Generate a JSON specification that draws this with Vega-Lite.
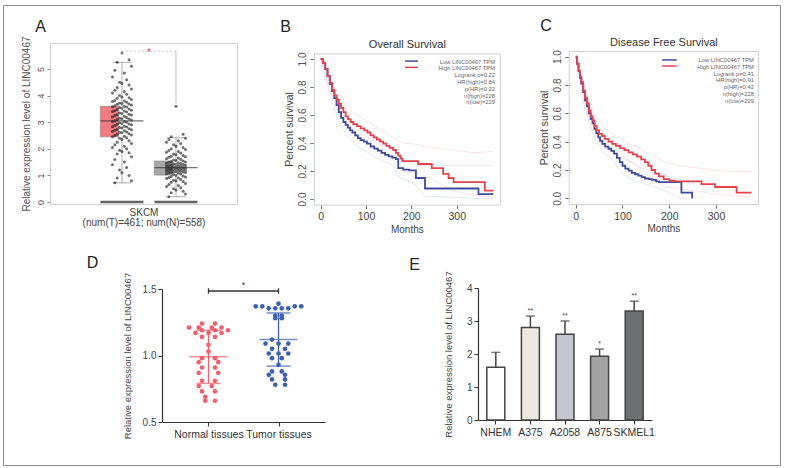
{
"$schema": "https://vega.github.io/schema/vega-lite/v6.json",
"width": 777, "height": 460,
"autosize": {"type": "none"},
"padding": {"left": 3, "top": 5, "right": 6, "bottom": 3},
"background": "white",
"config": {"view": {"stroke": "#8c8c8c", "strokeWidth": 1}, "font": "Liberation Sans", "axis": {"grid": false, "titleFontWeight": "normal"}},
"datasets": {
"one": [{"k": 1}],
"boxA": [{"g":"T","lo":0.72,"q1":2.45,"md":3.05,"q3":3.6,"hi":5.25},{"g":"N","lo":0.2,"q1":1.01,"md":1.29,"q3":1.54,"hi":2.42}],
"ptsA": [
{"g":"T","v":5.6,"j":0},{"g":"T","v":5.35,"j":3},{"g":"T","v":5.25,"j":-2},{"g":"T","v":5.1,"j":4},{"g":"T","v":4.95,"j":-3},{"g":"T","v":4.85,"j":1},{"g":"T","v":4.7,"j":-4},{"g":"T","v":4.6,"j":2},{"g":"T","v":4.5,"j":-1},{"g":"T","v":4.45,"j":0},
{"g":"T","v":4.4,"j":3},{"g":"T","v":4.3,"j":-2},{"g":"T","v":4.25,"j":4},{"g":"T","v":4.2,"j":-3},{"g":"T","v":4.15,"j":1},{"g":"T","v":4.1,"j":-4},{"g":"T","v":4.05,"j":2},{"g":"T","v":4.0,"j":-1},{"g":"T","v":3.95,"j":0},{"g":"T","v":3.92,"j":3},
{"g":"T","v":3.9,"j":-2},{"g":"T","v":3.85,"j":4},{"g":"T","v":3.82,"j":-3},{"g":"T","v":3.8,"j":1},{"g":"T","v":3.78,"j":-4},{"g":"T","v":3.75,"j":2},{"g":"T","v":3.72,"j":-1},{"g":"T","v":3.7,"j":0},{"g":"T","v":3.68,"j":3},{"g":"T","v":3.67,"j":-2},
{"g":"T","v":3.65,"j":4},{"g":"T","v":3.62,"j":-3},{"g":"T","v":3.6,"j":1},{"g":"T","v":3.58,"j":-4},{"g":"T","v":3.57,"j":2},{"g":"T","v":3.55,"j":-1},{"g":"T","v":3.52,"j":0},{"g":"T","v":3.5,"j":3},{"g":"T","v":3.48,"j":-2},{"g":"T","v":3.45,"j":4},
{"g":"T","v":3.43,"j":-3},{"g":"T","v":3.42,"j":1},{"g":"T","v":3.4,"j":-4},{"g":"T","v":3.38,"j":2},{"g":"T","v":3.35,"j":-1},{"g":"T","v":3.33,"j":0},{"g":"T","v":3.3,"j":3},{"g":"T","v":3.28,"j":-2},{"g":"T","v":3.27,"j":4},{"g":"T","v":3.25,"j":-3},
{"g":"T","v":3.22,"j":1},{"g":"T","v":3.2,"j":-4},{"g":"T","v":3.18,"j":2},{"g":"T","v":3.15,"j":-1},{"g":"T","v":3.13,"j":0},{"g":"T","v":3.12,"j":3},{"g":"T","v":3.1,"j":-2},{"g":"T","v":3.08,"j":4},{"g":"T","v":3.05,"j":-3},{"g":"T","v":3.03,"j":1},
{"g":"T","v":3.03,"j":-4},{"g":"T","v":3.0,"j":2},{"g":"T","v":2.98,"j":-1},{"g":"T","v":2.95,"j":0},{"g":"T","v":2.93,"j":3},{"g":"T","v":2.92,"j":-2},{"g":"T","v":2.9,"j":4},{"g":"T","v":2.88,"j":-3},{"g":"T","v":2.85,"j":1},{"g":"T","v":2.83,"j":-4},
{"g":"T","v":2.82,"j":2},{"g":"T","v":2.8,"j":-1},{"g":"T","v":2.78,"j":0},{"g":"T","v":2.75,"j":3},{"g":"T","v":2.73,"j":-2},{"g":"T","v":2.72,"j":4},{"g":"T","v":2.7,"j":-3},{"g":"T","v":2.68,"j":1},{"g":"T","v":2.65,"j":-4},{"g":"T","v":2.63,"j":2},
{"g":"T","v":2.62,"j":-1},{"g":"T","v":2.6,"j":0},{"g":"T","v":2.57,"j":3},{"g":"T","v":2.55,"j":-2},{"g":"T","v":2.52,"j":4},{"g":"T","v":2.5,"j":-3},{"g":"T","v":2.47,"j":1},{"g":"T","v":2.45,"j":-4},{"g":"T","v":2.42,"j":2},{"g":"T","v":2.4,"j":-1},
{"g":"T","v":2.35,"j":0},{"g":"T","v":2.3,"j":3},{"g":"T","v":2.25,"j":-2},{"g":"T","v":2.2,"j":4},{"g":"T","v":2.15,"j":-3},{"g":"T","v":2.1,"j":1},{"g":"T","v":2.05,"j":-4},{"g":"T","v":2.0,"j":2},{"g":"T","v":1.95,"j":-1},{"g":"T","v":1.9,"j":0},
{"g":"T","v":1.85,"j":3},{"g":"T","v":1.8,"j":-2},{"g":"T","v":1.7,"j":4},{"g":"T","v":1.6,"j":-3},{"g":"T","v":1.5,"j":1},{"g":"T","v":1.4,"j":-4},{"g":"T","v":1.3,"j":2},{"g":"T","v":1.2,"j":-1},{"g":"T","v":1.1,"j":0},{"g":"T","v":1.0,"j":3},
{"g":"T","v":0.9,"j":-2},{"g":"T","v":0.8,"j":4},{"g":"T","v":0.72,"j":-3},
{"g":"N","v":3.6,"j":0},{"g":"N","v":2.55,"j":3},{"g":"N","v":2.45,"j":-2},{"g":"N","v":2.4,"j":4},{"g":"N","v":2.35,"j":-3},{"g":"N","v":2.3,"j":1},{"g":"N","v":2.25,"j":-4},{"g":"N","v":2.2,"j":2},{"g":"N","v":2.15,"j":-1},{"g":"N","v":2.1,"j":0},
{"g":"N","v":2.05,"j":3},{"g":"N","v":2.0,"j":-2},{"g":"N","v":1.97,"j":4},{"g":"N","v":1.94,"j":-3},{"g":"N","v":1.9,"j":1},{"g":"N","v":1.87,"j":-4},{"g":"N","v":1.84,"j":2},{"g":"N","v":1.8,"j":-1},{"g":"N","v":1.78,"j":0},{"g":"N","v":1.75,"j":3},
{"g":"N","v":1.72,"j":-2},{"g":"N","v":1.7,"j":4},{"g":"N","v":1.68,"j":-3},{"g":"N","v":1.65,"j":1},{"g":"N","v":1.63,"j":-4},{"g":"N","v":1.6,"j":2},{"g":"N","v":1.58,"j":-1},{"g":"N","v":1.56,"j":0},{"g":"N","v":1.54,"j":3},{"g":"N","v":1.52,"j":-2},
{"g":"N","v":1.5,"j":4},{"g":"N","v":1.49,"j":-3},{"g":"N","v":1.48,"j":1},{"g":"N","v":1.46,"j":-4},{"g":"N","v":1.45,"j":2},{"g":"N","v":1.44,"j":-1},{"g":"N","v":1.42,"j":0},{"g":"N","v":1.41,"j":3},{"g":"N","v":1.4,"j":-2},{"g":"N","v":1.38,"j":4},
{"g":"N","v":1.37,"j":-3},{"g":"N","v":1.36,"j":1},{"g":"N","v":1.35,"j":-4},{"g":"N","v":1.34,"j":2},{"g":"N","v":1.33,"j":-1},{"g":"N","v":1.32,"j":0},{"g":"N","v":1.31,"j":3},{"g":"N","v":1.3,"j":-2},{"g":"N","v":1.29,"j":4},{"g":"N","v":1.28,"j":-3},
{"g":"N","v":1.27,"j":1},{"g":"N","v":1.26,"j":-4},{"g":"N","v":1.25,"j":2},{"g":"N","v":1.24,"j":-1},{"g":"N","v":1.23,"j":0},{"g":"N","v":1.22,"j":3},{"g":"N","v":1.21,"j":-2},{"g":"N","v":1.2,"j":4},{"g":"N","v":1.19,"j":-3},{"g":"N","v":1.18,"j":1},
{"g":"N","v":1.17,"j":-4},{"g":"N","v":1.16,"j":2},{"g":"N","v":1.15,"j":-1},{"g":"N","v":1.14,"j":0},{"g":"N","v":1.13,"j":3},{"g":"N","v":1.12,"j":-2},{"g":"N","v":1.11,"j":4},{"g":"N","v":1.1,"j":-3},{"g":"N","v":1.08,"j":1},{"g":"N","v":1.06,"j":-4},
{"g":"N","v":1.05,"j":2},{"g":"N","v":1.03,"j":-1},{"g":"N","v":1.0,"j":0},{"g":"N","v":0.98,"j":3},{"g":"N","v":0.96,"j":-2},{"g":"N","v":0.94,"j":4},{"g":"N","v":0.92,"j":-3},{"g":"N","v":0.9,"j":1},{"g":"N","v":0.88,"j":-4},{"g":"N","v":0.85,"j":2},
{"g":"N","v":0.82,"j":-1},{"g":"N","v":0.8,"j":0},{"g":"N","v":0.77,"j":3},{"g":"N","v":0.74,"j":-2},{"g":"N","v":0.7,"j":4},{"g":"N","v":0.66,"j":-3},{"g":"N","v":0.62,"j":1},{"g":"N","v":0.58,"j":-4},{"g":"N","v":0.54,"j":2},{"g":"N","v":0.5,"j":-1},
{"g":"N","v":0.45,"j":0},{"g":"N","v":0.4,"j":3},{"g":"N","v":0.35,"j":-2},{"g":"N","v":0.3,"j":4},{"g":"N","v":0.2,"j":-3}
],
"km": [
{"p":"B","g":"Low","m":0,"s":1},{"p":"B","g":"Low","m":5,"s":0.97},{"p":"B","g":"Low","m":10,"s":0.93},{"p":"B","g":"Low","m":15,"s":0.88},{"p":"B","g":"Low","m":20,"s":0.82},{"p":"B","g":"Low","m":25,"s":0.77},{"p":"B","g":"Low","m":30,"s":0.72},{"p":"B","g":"Low","m":35,"s":0.67},{"p":"B","g":"Low","m":40,"s":0.62},{"p":"B","g":"Low","m":45,"s":0.58},
{"p":"B","g":"Low","m":50,"s":0.55},{"p":"B","g":"Low","m":55,"s":0.53},{"p":"B","g":"Low","m":60,"s":0.51},{"p":"B","g":"Low","m":65,"s":0.49},{"p":"B","g":"Low","m":70,"s":0.475},{"p":"B","g":"Low","m":76,"s":0.455},{"p":"B","g":"Low","m":82,"s":0.435},{"p":"B","g":"Low","m":88,"s":0.42},{"p":"B","g":"Low","m":95,"s":0.41},{"p":"B","g":"Low","m":102,"s":0.395},
{"p":"B","g":"Low","m":110,"s":0.375},{"p":"B","g":"Low","m":118,"s":0.36},{"p":"B","g":"Low","m":126,"s":0.345},{"p":"B","g":"Low","m":134,"s":0.33},{"p":"B","g":"Low","m":142,"s":0.315},{"p":"B","g":"Low","m":150,"s":0.305},{"p":"B","g":"Low","m":158,"s":0.295},{"p":"B","g":"Low","m":166,"s":0.285},{"p":"B","g":"Low","m":171,"s":0.22},{"p":"B","g":"Low","m":182,"s":0.21},
{"p":"B","g":"Low","m":195,"s":0.205},{"p":"B","g":"Low","m":210,"s":0.15},{"p":"B","g":"Low","m":230,"s":0.075},{"p":"B","g":"Low","m":348,"s":0.035},{"p":"B","g":"Low","m":381,"s":0.035},
{"p":"B","g":"High","m":0,"s":1},{"p":"B","g":"High","m":5,"s":0.97},{"p":"B","g":"High","m":10,"s":0.93},{"p":"B","g":"High","m":15,"s":0.88},{"p":"B","g":"High","m":20,"s":0.83},{"p":"B","g":"High","m":25,"s":0.78},{"p":"B","g":"High","m":30,"s":0.74},{"p":"B","g":"High","m":35,"s":0.71},{"p":"B","g":"High","m":40,"s":0.68},{"p":"B","g":"High","m":45,"s":0.65},
{"p":"B","g":"High","m":50,"s":0.62},{"p":"B","g":"High","m":55,"s":0.59},{"p":"B","g":"High","m":60,"s":0.57},{"p":"B","g":"High","m":66,"s":0.55},{"p":"B","g":"High","m":72,"s":0.535},{"p":"B","g":"High","m":80,"s":0.52},{"p":"B","g":"High","m":88,"s":0.505},{"p":"B","g":"High","m":96,"s":0.49},{"p":"B","g":"High","m":103,"s":0.475},{"p":"B","g":"High","m":110,"s":0.455},
{"p":"B","g":"High","m":117,"s":0.44},{"p":"B","g":"High","m":124,"s":0.425},{"p":"B","g":"High","m":131,"s":0.41},{"p":"B","g":"High","m":138,"s":0.395},{"p":"B","g":"High","m":145,"s":0.38},{"p":"B","g":"High","m":152,"s":0.365},{"p":"B","g":"High","m":160,"s":0.35},{"p":"B","g":"High","m":166,"s":0.33},{"p":"B","g":"High","m":171,"s":0.31},{"p":"B","g":"High","m":176,"s":0.29},
{"p":"B","g":"High","m":180,"s":0.27},{"p":"B","g":"High","m":215,"s":0.25},{"p":"B","g":"High","m":245,"s":0.22},{"p":"B","g":"High","m":270,"s":0.18},{"p":"B","g":"High","m":282,"s":0.15},{"p":"B","g":"High","m":293,"s":0.12},{"p":"B","g":"High","m":362,"s":0.06},{"p":"B","g":"High","m":381,"s":0.06},
{"p":"C","g":"Low","m":0,"s":1},{"p":"C","g":"Low","m":3,"s":0.95},{"p":"C","g":"Low","m":6,"s":0.9},{"p":"C","g":"Low","m":9,"s":0.85},{"p":"C","g":"Low","m":12,"s":0.81},{"p":"C","g":"Low","m":16,"s":0.75},{"p":"C","g":"Low","m":20,"s":0.69},{"p":"C","g":"Low","m":24,"s":0.65},{"p":"C","g":"Low","m":28,"s":0.6},{"p":"C","g":"Low","m":32,"s":0.56},
{"p":"C","g":"Low","m":36,"s":0.53},{"p":"C","g":"Low","m":40,"s":0.49},{"p":"C","g":"Low","m":44,"s":0.46},{"p":"C","g":"Low","m":48,"s":0.43},{"p":"C","g":"Low","m":52,"s":0.405},{"p":"C","g":"Low","m":57,"s":0.385},{"p":"C","g":"Low","m":63,"s":0.365},{"p":"C","g":"Low","m":70,"s":0.35},{"p":"C","g":"Low","m":76,"s":0.335},{"p":"C","g":"Low","m":82,"s":0.315},
{"p":"C","g":"Low","m":88,"s":0.285},{"p":"C","g":"Low","m":94,"s":0.255},{"p":"C","g":"Low","m":100,"s":0.23},{"p":"C","g":"Low","m":106,"s":0.21},{"p":"C","g":"Low","m":113,"s":0.195},{"p":"C","g":"Low","m":120,"s":0.18},{"p":"C","g":"Low","m":127,"s":0.17},{"p":"C","g":"Low","m":134,"s":0.16},{"p":"C","g":"Low","m":141,"s":0.15},{"p":"C","g":"Low","m":148,"s":0.14},
{"p":"C","g":"Low","m":156,"s":0.135},{"p":"C","g":"Low","m":163,"s":0.13},{"p":"C","g":"Low","m":172,"s":0.12},{"p":"C","g":"Low","m":178,"s":0.115},{"p":"C","g":"Low","m":226,"s":0.04},{"p":"C","g":"Low","m":249,"s":0.0},
{"p":"C","g":"High","m":0,"s":1},{"p":"C","g":"High","m":3,"s":0.95},{"p":"C","g":"High","m":6,"s":0.9},{"p":"C","g":"High","m":9,"s":0.86},{"p":"C","g":"High","m":12,"s":0.82},{"p":"C","g":"High","m":16,"s":0.76},{"p":"C","g":"High","m":20,"s":0.71},{"p":"C","g":"High","m":24,"s":0.67},{"p":"C","g":"High","m":28,"s":0.62},{"p":"C","g":"High","m":32,"s":0.58},
{"p":"C","g":"High","m":36,"s":0.55},{"p":"C","g":"High","m":40,"s":0.51},{"p":"C","g":"High","m":45,"s":0.48},{"p":"C","g":"High","m":50,"s":0.455},{"p":"C","g":"High","m":56,"s":0.44},{"p":"C","g":"High","m":62,"s":0.42},{"p":"C","g":"High","m":70,"s":0.4},{"p":"C","g":"High","m":78,"s":0.385},{"p":"C","g":"High","m":86,"s":0.37},{"p":"C","g":"High","m":95,"s":0.355},
{"p":"C","g":"High","m":104,"s":0.34},{"p":"C","g":"High","m":113,"s":0.325},{"p":"C","g":"High","m":122,"s":0.31},{"p":"C","g":"High","m":131,"s":0.295},{"p":"C","g":"High","m":140,"s":0.275},{"p":"C","g":"High","m":148,"s":0.255},{"p":"C","g":"High","m":155,"s":0.23},{"p":"C","g":"High","m":162,"s":0.2},{"p":"C","g":"High","m":170,"s":0.175},{"p":"C","g":"High","m":178,"s":0.155},
{"p":"C","g":"High","m":188,"s":0.135},{"p":"C","g":"High","m":200,"s":0.125},{"p":"C","g":"High","m":212,"s":0.12},{"p":"C","g":"High","m":269,"s":0.1},{"p":"C","g":"High","m":298,"s":0.08},{"p":"C","g":"High","m":344,"s":0.04},{"p":"C","g":"High","m":376,"s":0.04}
],
"kmci": [
{"p":"B","g":"HighU","m":0,"s":1},{"p":"B","g":"HighU","m":20,"s":0.88},{"p":"B","g":"HighU","m":40,"s":0.74},{"p":"B","g":"HighU","m":60,"s":0.64},{"p":"B","g":"HighU","m":80,"s":0.6},{"p":"B","g":"HighU","m":100,"s":0.56},{"p":"B","g":"HighU","m":130,"s":0.5},{"p":"B","g":"HighU","m":160,"s":0.44},{"p":"B","g":"HighU","m":180,"s":0.4},{"p":"B","g":"HighU","m":215,"s":0.39},{"p":"B","g":"HighU","m":245,"s":0.37},{"p":"B","g":"HighU","m":290,"s":0.35},{"p":"B","g":"HighU","m":340,"s":0.33},{"p":"B","g":"HighU","m":381,"s":0.34},
{"p":"B","g":"HighL","m":0,"s":1},{"p":"B","g":"HighL","m":20,"s":0.78},{"p":"B","g":"HighL","m":40,"s":0.62},{"p":"B","g":"HighL","m":60,"s":0.51},{"p":"B","g":"HighL","m":80,"s":0.46},{"p":"B","g":"HighL","m":100,"s":0.42},{"p":"B","g":"HighL","m":130,"s":0.35},{"p":"B","g":"HighL","m":160,"s":0.28},{"p":"B","g":"HighL","m":180,"s":0.2},{"p":"B","g":"HighL","m":215,"s":0.18},{"p":"B","g":"HighL","m":245,"s":0.14},{"p":"B","g":"HighL","m":270,"s":0.1},{"p":"B","g":"HighL","m":293,"s":0.06},{"p":"B","g":"HighL","m":330,"s":0.03},{"p":"B","g":"HighL","m":381,"s":0.01},
{"p":"B","g":"LowU","m":0,"s":1},{"p":"B","g":"LowU","m":20,"s":0.87},{"p":"B","g":"LowU","m":40,"s":0.69},{"p":"B","g":"LowU","m":60,"s":0.58},{"p":"B","g":"LowU","m":80,"s":0.5},{"p":"B","g":"LowU","m":100,"s":0.45},{"p":"B","g":"LowU","m":130,"s":0.39},{"p":"B","g":"LowU","m":160,"s":0.35},{"p":"B","g":"LowU","m":171,"s":0.29},{"p":"B","g":"LowU","m":210,"s":0.24},{"p":"B","g":"LowU","m":381,"s":0.24},
{"p":"B","g":"LowL","m":0,"s":1},{"p":"B","g":"LowL","m":20,"s":0.76},{"p":"B","g":"LowL","m":40,"s":0.55},{"p":"B","g":"LowL","m":60,"s":0.44},{"p":"B","g":"LowL","m":80,"s":0.38},{"p":"B","g":"LowL","m":100,"s":0.34},{"p":"B","g":"LowL","m":130,"s":0.28},{"p":"B","g":"LowL","m":160,"s":0.24},{"p":"B","g":"LowL","m":171,"s":0.16},{"p":"B","g":"LowL","m":210,"s":0.1},{"p":"B","g":"LowL","m":230,"s":0.02},{"p":"B","g":"LowL","m":381,"s":0.0},
{"p":"C","g":"HighU","m":0,"s":1},{"p":"C","g":"HighU","m":20,"s":0.78},{"p":"C","g":"HighU","m":40,"s":0.6},{"p":"C","g":"HighU","m":60,"s":0.5},{"p":"C","g":"HighU","m":80,"s":0.45},{"p":"C","g":"HighU","m":100,"s":0.41},{"p":"C","g":"HighU","m":130,"s":0.36},{"p":"C","g":"HighU","m":160,"s":0.31},{"p":"C","g":"HighU","m":190,"s":0.26},{"p":"C","g":"HighU","m":220,"s":0.23},{"p":"C","g":"HighU","m":250,"s":0.22},{"p":"C","g":"HighU","m":290,"s":0.2},{"p":"C","g":"HighU","m":340,"s":0.19},{"p":"C","g":"HighU","m":376,"s":0.19},
{"p":"C","g":"HighL","m":0,"s":1},{"p":"C","g":"HighL","m":20,"s":0.64},{"p":"C","g":"HighL","m":40,"s":0.44},{"p":"C","g":"HighL","m":60,"s":0.36},{"p":"C","g":"HighL","m":80,"s":0.32},{"p":"C","g":"HighL","m":100,"s":0.28},{"p":"C","g":"HighL","m":130,"s":0.24},{"p":"C","g":"HighL","m":160,"s":0.14},{"p":"C","g":"HighL","m":190,"s":0.08},{"p":"C","g":"HighL","m":220,"s":0.07},{"p":"C","g":"HighL","m":260,"s":0.05},{"p":"C","g":"HighL","m":300,"s":0.03},{"p":"C","g":"HighL","m":376,"s":0.01},
{"p":"C","g":"LowU","m":0,"s":1},{"p":"C","g":"LowU","m":20,"s":0.76},{"p":"C","g":"LowU","m":40,"s":0.56},{"p":"C","g":"LowU","m":60,"s":0.45},{"p":"C","g":"LowU","m":80,"s":0.4},{"p":"C","g":"LowU","m":100,"s":0.3},{"p":"C","g":"LowU","m":130,"s":0.23},{"p":"C","g":"LowU","m":160,"s":0.19},{"p":"C","g":"LowU","m":180,"s":0.17},{"p":"C","g":"LowU","m":226,"s":0.13},{"p":"C","g":"LowU","m":249,"s":0.1},
{"p":"C","g":"LowL","m":0,"s":1},{"p":"C","g":"LowL","m":20,"s":0.62},{"p":"C","g":"LowL","m":40,"s":0.43},{"p":"C","g":"LowL","m":60,"s":0.32},{"p":"C","g":"LowL","m":80,"s":0.27},{"p":"C","g":"LowL","m":100,"s":0.17},{"p":"C","g":"LowL","m":130,"s":0.12},{"p":"C","g":"LowL","m":160,"s":0.09},{"p":"C","g":"LowL","m":180,"s":0.07},{"p":"C","g":"LowL","m":226,"s":0.0},{"p":"C","g":"LowL","m":249,"s":0.0}
],
"ptsD": [
{"g":"Normal tissues","v":1.24,"j":-1},{"g":"Normal tissues","v":1.24,"j":1},{"g":"Normal tissues","v":1.21,"j":-3},{"g":"Normal tissues","v":1.21,"j":-1.5},{"g":"Normal tissues","v":1.21,"j":0.5},{"g":"Normal tissues","v":1.21,"j":2},{"g":"Normal tissues","v":1.19,"j":-1},{"g":"Normal tissues","v":1.19,"j":1},{"g":"Normal tissues","v":1.19,"j":3},
{"g":"Normal tissues","v":1.17,"j":-2},{"g":"Normal tissues","v":1.17,"j":0},{"g":"Normal tissues","v":1.17,"j":2},{"g":"Normal tissues","v":1.14,"j":-1},{"g":"Normal tissues","v":1.14,"j":1},{"g":"Normal tissues","v":1.08,"j":0},{"g":"Normal tissues","v":1.03,"j":0},{"g":"Normal tissues","v":0.98,"j":-1},{"g":"Normal tissues","v":0.98,"j":1},
{"g":"Normal tissues","v":0.95,"j":-1.5},{"g":"Normal tissues","v":0.95,"j":1.5},{"g":"Normal tissues","v":0.91,"j":-1},{"g":"Normal tissues","v":0.91,"j":1},{"g":"Normal tissues","v":0.87,"j":-1.5},{"g":"Normal tissues","v":0.87,"j":1.5},{"g":"Normal tissues","v":0.81,"j":-1},{"g":"Normal tissues","v":0.81,"j":1},
{"g":"Normal tissues","v":0.77,"j":-1.5},{"g":"Normal tissues","v":0.77,"j":0.5},{"g":"Normal tissues","v":0.73,"j":-1},{"g":"Normal tissues","v":0.73,"j":1},{"g":"Normal tissues","v":0.69,"j":-0.5},{"g":"Normal tissues","v":0.66,"j":-0.5},{"g":"Normal tissues","v":0.66,"j":1},
{"g":"Tumor tissues","v":1.39,"j":0},{"g":"Tumor tissues","v":1.37,"j":-3.5},{"g":"Tumor tissues","v":1.37,"j":-2.5},{"g":"Tumor tissues","v":1.37,"j":2.5},{"g":"Tumor tissues","v":1.37,"j":3.5},{"g":"Tumor tissues","v":1.355,"j":-1.5},{"g":"Tumor tissues","v":1.355,"j":-0.5},{"g":"Tumor tissues","v":1.355,"j":0.5},{"g":"Tumor tissues","v":1.355,"j":1.5},
{"g":"Tumor tissues","v":1.3,"j":-0.5},{"g":"Tumor tissues","v":1.3,"j":0.5},{"g":"Tumor tissues","v":1.28,"j":-0.5},{"g":"Tumor tissues","v":1.28,"j":0.5},{"g":"Tumor tissues","v":1.12,"j":-1},{"g":"Tumor tissues","v":1.09,"j":-2},{"g":"Tumor tissues","v":1.09,"j":0},{"g":"Tumor tissues","v":1.09,"j":1.5},
{"g":"Tumor tissues","v":1.05,"j":-1},{"g":"Tumor tissues","v":1.05,"j":1},{"g":"Tumor tissues","v":1.015,"j":-1.5},{"g":"Tumor tissues","v":1.015,"j":0},{"g":"Tumor tissues","v":1.015,"j":1.5},{"g":"Tumor tissues","v":0.98,"j":-1},{"g":"Tumor tissues","v":0.98,"j":0.5},{"g":"Tumor tissues","v":0.93,"j":0},
{"g":"Tumor tissues","v":0.88,"j":-1},{"g":"Tumor tissues","v":0.88,"j":0.5},{"g":"Tumor tissues","v":0.855,"j":-1.5},{"g":"Tumor tissues","v":0.855,"j":1},{"g":"Tumor tissues","v":0.82,"j":-1},{"g":"Tumor tissues","v":0.82,"j":1},{"g":"Tumor tissues","v":0.78,"j":-0.5},{"g":"Tumor tissues","v":0.78,"j":1}
],
"sumD": [{"g":"Normal tissues","m":0.99,"lo":0.79,"hi":1.19},{"g":"Tumor tissues","m":1.12,"lo":0.92,"hi":1.32}],
"barE": [{"c":"NHEM","v":1.6,"e":2.05,"s":""},{"c":"A375","v":2.8,"e":3.15,"s":"**"},{"c":"A2058","v":2.6,"e":3.0,"s":"**"},{"c":"A875","v":1.93,"e":2.15,"s":"*"},{"c":"SKMEL1","v":3.3,"e":3.6,"s":"**"}]
},
"resolve": {"scale": {"x": "independent", "y": "independent", "color": "independent", "xOffset": "independent"}, "axis": {"x": "independent", "y": "independent"}},
"layer": [
{
 "resolve": {"axis": {"x": "independent", "y": "independent"}},
 "layer": [
  {"layer": [
   {"data": {"name": "boxA"}, "mark": {"type": "bar", "stroke": "#888888", "strokeWidth": 0.6},
    "encoding": {
     "x": {"field": "g", "type": "nominal", "scale": {"type": "band", "domain": ["T", "N"], "range": [47, 234], "paddingInner": 0.2, "paddingOuter": 0.831, "align": 0.561},
       "axis": {"orient": "bottom", "offset": -261, "domainColor": "#d0d0d0", "ticks": false, "labels": false, "title": ["SKCM", "(num(T)=461; num(N)=558)"], "titleFontSize": 10, "titleColor": "#444444", "titlePadding": 3, "titleLineHeight": 10}},
     "y": {"field": "q1", "type": "quantitative", "scale": {"domain": [-0.075, 5.977], "range": [199, 38], "nice": false, "zero": false},
       "axis": {"orient": "left", "offset": -47, "values": [0, 1, 2, 3, 4, 5], "format": "d", "domainColor": "#d0d0d0", "tickColor": "#888888", "tickSize": 3, "labelAngle": -90, "labelFontSize": 9, "labelColor": "#555555", "labelPadding": 2, "title": "Relative expression level of LINC00467", "titleFontSize": 10, "titleColor": "#555555", "titlePadding": 5}},
     "y2": {"field": "q3"},
     "color": {"field": "g", "type": "nominal", "scale": {"domain": ["T", "N"], "range": ["#f17b7e", "#a7a7a7"]}, "legend": null}
    }},
   {"data": {"name": "boxA"}, "mark": {"type": "rule", "color": "#999999", "strokeWidth": 0.8},
    "encoding": {"x": {"field": "g", "type": "nominal"}, "y": {"field": "q3", "type": "quantitative"}, "y2": {"field": "hi"}}},
   {"data": {"name": "boxA"}, "mark": {"type": "rule", "color": "#999999", "strokeWidth": 0.8},
    "encoding": {"x": {"field": "g", "type": "nominal"}, "y": {"field": "lo", "type": "quantitative"}, "y2": {"field": "q1"}}},
   {"data": {"name": "boxA"}, "mark": {"type": "tick", "size": 19, "thickness": 1, "color": "#888888"},
    "encoding": {"x": {"field": "g", "type": "nominal"}, "y": {"field": "hi", "type": "quantitative"}}},
   {"data": {"name": "boxA"}, "mark": {"type": "tick", "size": 19, "thickness": 1, "color": "#888888"},
    "encoding": {"x": {"field": "g", "type": "nominal"}, "y": {"field": "lo", "type": "quantitative"}}},
   {"data": {"name": "ptsA"}, "mark": {"type": "circle", "size": 9, "opacity": 0.6, "color": "#111111"},
    "encoding": {"x": {"field": "g", "type": "nominal"}, "xOffset": {"field": "j", "type": "quantitative", "scale": {"domain": [-4, 4], "range": [12.1, 31.1]}}, "y": {"field": "v", "type": "quantitative"}}},
   {"data": {"name": "boxA"}, "mark": {"type": "tick", "size": 43, "thickness": 1.3, "color": "#333333"},
    "encoding": {"x": {"field": "g", "type": "nominal"}, "y": {"field": "md", "type": "quantitative"}}},
   {"data": {"name": "boxA"}, "mark": {"type": "tick", "size": 43, "thickness": 2.5, "color": "#222222"},
    "encoding": {"x": {"field": "g", "type": "nominal"}, "y": {"datum": 0}}},
   {"data": {"name": "one"}, "mark": {"type": "rule", "color": "#aaaaaa", "strokeWidth": 0.8},
    "encoding": {"x": {"datum": "N", "bandPosition": 0.5}, "y": {"datum": 5.67}, "y2": {"datum": 3.72}}},
   {"data": {"name": "one"}, "mark": {"type": "rule", "color": "#aaaaaa", "strokeWidth": 0.8},
    "encoding": {"x": {"datum": "T", "bandPosition": 0.5}, "y": {"datum": 5.67}, "y2": {"datum": 5.58}}},
   {"data": {"name": "one"}, "mark": {"type": "rule", "color": "#bbbbbb", "strokeWidth": 0.8, "strokeDash": [2, 2]},
    "encoding": {"x": {"datum": "T", "bandPosition": 0.5}, "x2": {"datum": "N", "bandPosition": 0.5}, "y": {"datum": 5.67}}},
   {"data": {"name": "one"}, "mark": {"type": "text", "text": "*", "fontSize": 10, "color": "#e8474f", "dx": 27, "dy": 2, "baseline": "middle"},
    "encoding": {"x": {"datum": "T", "bandPosition": 0.5}, "y": {"datum": 5.67}}}
  ]},
  {"data": {"name": "boxA"}, "mark": {"type": "point", "opacity": 0},
   "encoding": {
    "x": {"field": "g", "type": "nominal", "axis": {"orient": "top", "offset": -38, "domainColor": "#d0d0d0", "ticks": false, "labels": false, "title": "A", "titleFontSize": 16, "titleColor": "#222222", "titleX": 37, "titleY": -17, "titleAlign": "center", "titleBaseline": "middle"}},
    "y": {"field": "md", "type": "quantitative", "axis": {"orient": "right", "offset": -543, "domainColor": "#d0d0d0", "ticks": false, "labels": false, "title": null}}
   }}
 ]
},
{
 "resolve": {"axis": {"x": "independent", "y": "independent"}},
 "layer": [
  {"layer": [
   {"data": {"name": "kmci"}, "transform": [{"filter": "datum.p == 'B'"}], "mark": {"type": "line", "strokeWidth": 0.8, "opacity": 0.75},
    "encoding": {
     "x": {"field": "m", "type": "quantitative", "scale": {"domain": [-15, 395], "range": [310.9, 496.8], "nice": false, "zero": false},
       "axis": {"orient": "bottom", "offset": -260.4, "values": [0, 100, 200, 300], "domainColor": "#d0d0d0", "tickColor": "#777777", "tickSize": 4, "labelFontSize": 10.5, "labelColor": "#444444", "labelPadding": 3, "title": "Months", "titleFontSize": 10, "titleColor": "#444444", "titlePadding": 2}},
     "y": {"field": "s", "type": "quantitative", "scale": {"domain": [-0.04, 1.04], "range": [199.6, 48.4], "nice": false, "zero": false},
       "axis": {"orient": "left", "offset": -310.9, "values": [0, 0.2, 0.4, 0.6, 0.8, 1], "format": ".1f", "domainColor": "#d0d0d0", "tickColor": "#777777", "tickSize": 4, "labelAngle": -90, "labelFontSize": 10, "labelColor": "#555555", "labelPadding": 2, "title": "Percent survival", "titleFontSize": 10.5, "titleColor": "#444444", "titlePadding": 3}},
     "color": {"field": "g", "type": "nominal", "scale": {"domain": ["Low", "High", "LowU", "LowL", "HighU", "HighL"], "range": ["#3d4c9c", "#e5434c", "#d0d6f0", "#d0d6f0", "#f8cfd1", "#f8cfd1"]}, "legend": null}
    }},
   {"data": {"name": "km"}, "transform": [{"filter": "datum.p == 'B'"}], "mark": {"type": "line", "strokeWidth": 1.8, "interpolate": "step-after"},
    "encoding": {"x": {"field": "m", "type": "quantitative"}, "y": {"field": "s", "type": "quantitative"}, "color": {"field": "g", "type": "nominal", "legend": null}}},
   {"data": {"name": "one"}, "mark": {"type": "rule", "color": "#3d4c9c", "strokeWidth": 1.5},
    "encoding": {"x": {"datum": 186}, "x2": {"datum": 214.6}, "y": {"datum": 0.985}}},
   {"data": {"name": "one"}, "mark": {"type": "rule", "color": "#e5434c", "strokeWidth": 1.5},
    "encoding": {"x": {"datum": 186}, "x2": {"datum": 214.6}, "y": {"datum": 0.94}}},
   {"data": {"name": "one"}, "mark": {"type": "text", "align": "right", "baseline": "top", "fontSize": 5.8, "lineHeight": 6.8, "color": "#666666"},
    "encoding": {"x": {"datum": 384.5}, "y": {"datum": 1.003}, "text": {"value": ["Low LINC00467 TPM", "High LINC00467 TPM", "Logrank p=0.22", "HR(high)=0.84", "p(HR)=0.22", "n(high)=228", "n(low)=229"]}}},
   {"data": {"name": "one"}, "mark": {"type": "text", "fontSize": 16, "color": "#222222", "baseline": "middle"},
    "encoding": {"x": {"datum": -77.7}, "y": {"datum": 1.226}, "text": {"value": "B"}}}
  ]},
  {"data": {"name": "km"}, "transform": [{"filter": "datum.p == 'B'"}], "mark": {"type": "point", "opacity": 0},
   "encoding": {
    "x": {"field": "m", "type": "quantitative", "axis": {"orient": "top", "offset": -48.4, "domainColor": "#d0d0d0", "ticks": false, "labels": false, "title": "Overall Survival", "titleFontSize": 11, "titleColor": "#333333", "titlePadding": 4}},
    "y": {"field": "s", "type": "quantitative", "axis": {"orient": "right", "offset": -280.2, "domainColor": "#d0d0d0", "ticks": false, "labels": false, "title": null}}
   }}
 ]
},
{
 "resolve": {"axis": {"x": "independent", "y": "independent"}},
 "layer": [
  {"layer": [
   {"data": {"name": "kmci"}, "transform": [{"filter": "datum.p == 'C'"}], "mark": {"type": "line", "strokeWidth": 0.8, "opacity": 0.75},
    "encoding": {
     "x": {"field": "m", "type": "quantitative", "scale": {"domain": [-15, 390], "range": [565.7, 755.1], "nice": false, "zero": false},
       "axis": {"orient": "bottom", "offset": -261, "values": [0, 100, 200, 300], "domainColor": "#d0d0d0", "tickColor": "#777777", "tickSize": 4, "labelFontSize": 10.5, "labelColor": "#444444", "labelPadding": 3, "title": "Months", "titleFontSize": 10, "titleColor": "#444444", "titlePadding": 2}},
     "y": {"field": "s", "type": "quantitative", "scale": {"domain": [-0.04, 1.04], "range": [199, 46], "nice": false, "zero": false},
       "axis": {"orient": "left", "offset": -565.7, "values": [0, 0.2, 0.4, 0.6, 0.8, 1], "format": ".1f", "domainColor": "#d0d0d0", "tickColor": "#777777", "tickSize": 4, "labelAngle": -90, "labelFontSize": 10, "labelColor": "#555555", "labelPadding": 2, "title": "Percent survival", "titleFontSize": 10.5, "titleColor": "#444444", "titlePadding": 3}},
     "color": {"field": "g", "type": "nominal", "scale": {"domain": ["Low", "High", "LowU", "LowL", "HighU", "HighL"], "range": ["#3d4c9c", "#e5434c", "#d0d6f0", "#d0d6f0", "#f8cfd1", "#f8cfd1"]}, "legend": null}
    }},
   {"data": {"name": "km"}, "transform": [{"filter": "datum.p == 'C'"}], "mark": {"type": "line", "strokeWidth": 1.8, "interpolate": "step-after"},
    "encoding": {"x": {"field": "m", "type": "quantitative"}, "y": {"field": "s", "type": "quantitative"}, "color": {"field": "g", "type": "nominal", "legend": null}}},
   {"data": {"name": "one"}, "mark": {"type": "rule", "color": "#3d4c9c", "strokeWidth": 1.5},
    "encoding": {"x": {"datum": 185}, "x2": {"datum": 216}, "y": {"datum": 0.977}}},
   {"data": {"name": "one"}, "mark": {"type": "rule", "color": "#e5434c", "strokeWidth": 1.5},
    "encoding": {"x": {"datum": 185}, "x2": {"datum": 216}, "y": {"datum": 0.934}}},
   {"data": {"name": "one"}, "mark": {"type": "text", "align": "right", "baseline": "top", "fontSize": 5.8, "lineHeight": 6.8, "color": "#666666"},
    "encoding": {"x": {"datum": 381}, "y": {"datum": 0.998}, "text": {"value": ["Low LINC00467 TPM", "High LINC00467 TPM", "Logrank p=0.41", "HR(high)=0.91", "p(HR)=0.42", "n(high)=228", "n(low)=229"]}}},
   {"data": {"name": "one"}, "mark": {"type": "text", "fontSize": 16, "color": "#222222", "baseline": "middle"},
    "encoding": {"x": {"datum": -63.5}, "y": {"datum": 1.22}, "text": {"value": "C"}}}
  ]},
  {"data": {"name": "km"}, "transform": [{"filter": "datum.p == 'C'"}], "mark": {"type": "point", "opacity": 0},
   "encoding": {
    "x": {"field": "m", "type": "quantitative", "axis": {"orient": "top", "offset": -46, "domainColor": "#d0d0d0", "ticks": false, "labels": false, "title": "Disease Free Survival", "titleFontSize": 11, "titleColor": "#333333", "titlePadding": 4}},
    "y": {"field": "s", "type": "quantitative", "axis": {"orient": "right", "offset": -21.9, "domainColor": "#d0d0d0", "ticks": false, "labels": false, "title": null}}
   }}
 ]
},
{
 "resolve": {"axis": {"x": "independent", "y": "independent"}},
 "layer": [
  {"layer": [
   {"data": {"name": "sumD"}, "mark": {"type": "rule", "strokeWidth": 1.3},
    "encoding": {
     "x": {"field": "g", "type": "nominal", "scale": {"type": "point", "domain": ["Normal tissues", "Tumor tissues"], "range": [159, 322], "padding": 0.664},
       "axis": {"orient": "bottom", "offset": -43, "domainColor": "#333333", "domainWidth": 1.2, "tickColor": "#333333", "tickSize": 4, "labelAngle": 0, "labelFontSize": 10.5, "labelColor": "#333333", "labelPadding": 3, "title": null}},
     "y": {"field": "lo", "type": "quantitative", "scale": {"domain": [0.5, 1.5], "range": [417, 284], "nice": false, "zero": false},
       "axis": {"orient": "left", "offset": -159, "values": [0.5, 1, 1.5], "format": ".1f", "domainColor": "#333333", "domainWidth": 1.2, "tickColor": "#333333", "tickSize": 4, "labelFontSize": 10, "labelColor": "#444444", "labelPadding": 2, "title": "Relative expression level of LINC00467", "titleFontSize": 9.5, "titleColor": "#444444", "titlePadding": 10}},
     "y2": {"field": "hi"},
     "color": {"field": "g", "type": "nominal", "scale": {"domain": ["Normal tissues", "Tumor tissues"], "range": ["#f0606c", "#3f60b6"]}, "legend": null}
    }},
   {"data": {"name": "ptsD"}, "mark": {"type": "circle", "size": 22, "opacity": 1},
    "encoding": {"x": {"field": "g", "type": "nominal"}, "xOffset": {"field": "j", "type": "quantitative", "scale": {"domain": [-4, 4], "range": [-26, 26]}}, "y": {"field": "v", "type": "quantitative"}, "color": {"field": "g", "type": "nominal", "legend": null}}},
   {"data": {"name": "sumD"}, "mark": {"type": "tick", "size": 38, "thickness": 1.5},
    "encoding": {"x": {"field": "g", "type": "nominal"}, "y": {"field": "m", "type": "quantitative"}, "color": {"field": "g", "type": "nominal", "legend": null}}},
   {"data": {"name": "sumD"}, "mark": {"type": "tick", "size": 24, "thickness": 1.5},
    "encoding": {"x": {"field": "g", "type": "nominal"}, "y": {"field": "lo", "type": "quantitative"}, "color": {"field": "g", "type": "nominal", "legend": null}}},
   {"data": {"name": "sumD"}, "mark": {"type": "tick", "size": 24, "thickness": 1.5},
    "encoding": {"x": {"field": "g", "type": "nominal"}, "y": {"field": "hi", "type": "quantitative"}, "color": {"field": "g", "type": "nominal", "legend": null}}},
   {"data": {"name": "one"}, "mark": {"type": "rule", "color": "#333333", "strokeWidth": 1.3},
    "encoding": {"x": {"datum": "Normal tissues"}, "x2": {"datum": "Tumor tissues"}, "y": {"datum": 1.485}}},
   {"data": {"name": "sumD"}, "mark": {"type": "rule", "color": "#333333", "strokeWidth": 1.3},
    "encoding": {"x": {"field": "g", "type": "nominal"}, "y": {"datum": 1.465}, "y2": {"datum": 1.505}}},
   {"data": {"name": "one"}, "mark": {"type": "text", "text": "*", "fontSize": 9, "color": "#333333", "dx": 35, "baseline": "middle"},
    "encoding": {"x": {"datum": "Normal tissues"}, "y": {"datum": 1.53}}}
  ]},
  {"data": {"name": "sumD"}, "mark": {"type": "point", "opacity": 0},
   "encoding": {
    "x": {"field": "g", "type": "nominal", "axis": {"orient": "top", "offset": -284, "domain": false, "ticks": false, "labels": false, "title": "D", "titleFontSize": 16, "titleColor": "#222222", "titleX": 89, "titleY": -27, "titleAlign": "center", "titleBaseline": "middle"}}
   }}
 ]
},
{
 "resolve": {"axis": {"x": "independent", "y": "independent"}},
 "layer": [
  {"layer": [
   {"data": {"name": "barE"}, "mark": {"type": "bar", "stroke": "#444444", "strokeWidth": 1.5},
    "encoding": {
     "x": {"field": "c", "type": "nominal", "sort": null, "scale": {"type": "band", "domain": ["NHEM", "A375", "A2058", "A875", "SKMEL1"], "range": [475, 649], "paddingInner": 0.48, "paddingOuter": 0.255},
       "axis": {"orient": "bottom", "offset": -45, "domainColor": "#333333", "domainWidth": 1.2, "tickColor": "#333333", "tickSize": 4, "labelAngle": 0, "labelFontSize": 10.5, "labelColor": "#333333", "labelPadding": 3, "title": null}},
     "y": {"field": "v", "type": "quantitative", "scale": {"domain": [0, 4], "range": [415, 283], "nice": false, "zero": false},
       "axis": {"orient": "left", "offset": -475, "values": [0, 1, 2, 3, 4], "format": "d", "domainColor": "#333333", "domainWidth": 1.2, "tickColor": "#333333", "tickSize": 4, "labelFontSize": 10, "labelColor": "#444444", "labelPadding": 2, "title": "Relative expression level of LINC00467", "titleFontSize": 9.5, "titleColor": "#444444", "titlePadding": 13}},
     "color": {"field": "c", "type": "nominal", "scale": {"domain": ["NHEM", "A375", "A2058", "A875", "SKMEL1"], "range": ["#ffffff", "#ece8e3", "#c6c6d2", "#a3a3a3", "#6d7173"]}, "legend": null}
    }},
   {"data": {"name": "barE"}, "mark": {"type": "rule", "color": "#444444", "strokeWidth": 1.5},
    "encoding": {"x": {"field": "c", "type": "nominal"}, "y": {"field": "v", "type": "quantitative"}, "y2": {"field": "e"}}},
   {"data": {"name": "barE"}, "mark": {"type": "tick", "size": 9, "thickness": 1.5, "color": "#444444"},
    "encoding": {"x": {"field": "c", "type": "nominal"}, "y": {"field": "e", "type": "quantitative"}}},
   {"data": {"name": "barE"}, "mark": {"type": "text", "baseline": "bottom", "dy": -2, "fontSize": 7, "color": "#444444"},
    "encoding": {"x": {"field": "c", "type": "nominal"}, "y": {"field": "e", "type": "quantitative"}, "text": {"field": "s"}}}
  ]},
  {"data": {"name": "barE"}, "mark": {"type": "point", "opacity": 0},
   "encoding": {
    "x": {"field": "c", "type": "nominal", "axis": {"orient": "top", "offset": -283, "domain": false, "ticks": false, "labels": false, "title": "E", "titleFontSize": 16, "titleColor": "#222222", "titleX": 411, "titleY": -24, "titleAlign": "center", "titleBaseline": "middle"}}
   }}
 ]
}
]
}
